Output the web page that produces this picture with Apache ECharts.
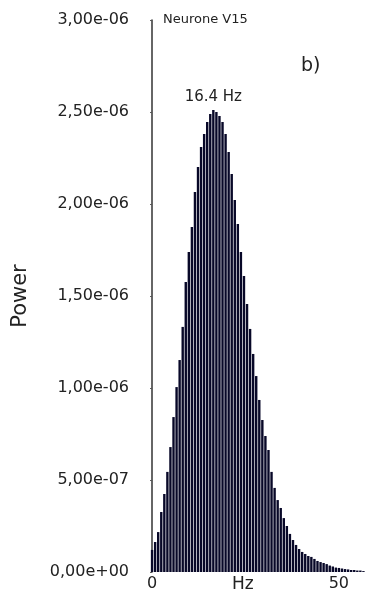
<!DOCTYPE html>
<html>
<head>
<meta charset="utf-8">
<script src="https://cdn.jsdelivr.net/npm/echarts@6/dist/echarts.min.js"></script>
<style>
  html, body { margin: 0; padding: 0; background: #fff; }
  #main { width: 365px; height: 594px; }
</style>
</head>
<body>
<div id="main"></div>
<script>
// frequency bins (Hz)
var freqs = [0, 0.82, 1.64, 2.46, 3.28, 4.1, 4.92, 5.74, 6.56, 7.38, 8.2, 9.02, 9.84, 10.66, 11.48,
  12.3, 13.12, 13.94, 14.76, 15.58, 16.4, 17.22, 18.04, 18.86, 19.68, 20.5, 21.32, 22.14, 22.96,
  23.78, 24.6, 25.42, 26.24, 27.06, 27.88, 28.7, 29.52, 30.34, 31.16, 31.98, 32.8, 33.62, 34.44,
  35.26, 36.08, 36.9, 37.72, 38.54, 39.36, 40.18, 41, 41.82, 42.64, 43.46, 44.28, 45.1, 45.92,
  46.74, 47.56, 48.38, 49.2, 50.02, 50.84, 51.66, 52.48, 53.3, 54.12, 54.94, 55.76, 56.58, 57.4];

// power, in units of 1e-8
var power = [12.0, 16.3, 21.7, 32.6, 42.4, 54.4, 67.9, 84.2, 100.5, 115.2, 133.2, 157.6, 173.9,
  187.5, 206.5, 220.1, 231.0, 238.1, 244.6, 248.9, 251.1, 250.0, 247.8, 244.6, 238.1, 228.3,
  216.3, 202.2, 189.1, 173.9, 160.9, 145.7, 132.1, 118.5, 106.5, 93.5, 82.6, 73.9, 66.3, 54.4,
  45.7, 39.1, 34.8, 29.3, 25.0, 20.7, 17.4, 14.7, 12.5, 10.9, 9.8, 8.7, 8.2, 7.1, 6.0, 5.4,
  4.9, 4.3, 3.5, 3.0, 2.4, 2.2, 1.9, 1.6, 1.4, 1.1, 1.1, 0.8, 0.8, 0.5, 0.5];

var xTicks = [0, 50];
var peakIndex = 20;
var peakText = '16.4 Hz';

var FONT = 'DejaVu Sans';
var chart = echarts.init(document.getElementById('main'));

function expLabel(v) {
  var s = v.toExponential(2).split('e');
  var e = parseInt(s[1], 10);
  var a = Math.abs(e);
  return s[0].replace('.', ',') + 'e' + (e < 0 ? '-' : '+') + (a < 10 ? '0' : '') + a;
}

var seriesData = [];
for (var i = 0; i < freqs.length; i++) {
  var item = { value: [freqs[i], power[i] * 1e-8] };
  if (i == peakIndex) {
    item.label = {
      show: true,
      position: 'top',
      distance: 5,
      formatter: peakText,
      color: '#222',
      fontSize: 15,
      fontFamily: FONT
    };
  }
  seriesData.push(item);
}

var option = {
  animation: false,
  grid: { left: 139, right: 0, top: 20, bottom: 22, outerBoundsMode: 'none' },
  xAxis: {
    type: 'value',
    min: -3.5,
    max: 57,
    axisLine: { show: false },
    axisTick: { show: false },
    splitLine: { show: false },
    axisLabel: {
      customValues: xTicks,
      margin: 4,
      color: '#222',
      fontSize: 16,
      fontFamily: FONT
    }
  },
  yAxis: {
    type: 'value',
    min: 0,
    max: 3e-6,
    interval: 5e-7,
    name: 'Power',
    nameLocation: 'middle',
    nameGap: 108,
    nameTextStyle: { color: '#222', fontSize: 21, fontFamily: FONT },
    axisLine: { show: true, lineStyle: { color: '#333', width: 1.5 } },
    axisTick: { show: true, length: 2, lineStyle: { color: '#555' } },
    splitLine: { show: false },
    axisLabel: {
      margin: 10,
      color: '#222',
      fontSize: 16,
      fontFamily: FONT,
      formatter: expLabel
    }
  },
  graphic: [
    { type: 'text', left: 163, top: 13,
      style: { text: 'Neurone V15', fill: '#222', fontSize: 13, fontFamily: FONT } },
    { type: 'text', left: 301, top: 57,
      style: { text: 'b)', fill: '#222', fontSize: 19, fontFamily: FONT } },
    { type: 'text', left: 232, top: 576,
      style: { text: 'Hz', fill: '#222', fontSize: 17, fontFamily: FONT } }
  ],
  series: [{
    type: 'bar',
    data: seriesData,
    barWidth: 2.4,
    itemStyle: { color: '#080828' }
  }]
};

chart.setOption(option);
</script>
</body>
</html>
